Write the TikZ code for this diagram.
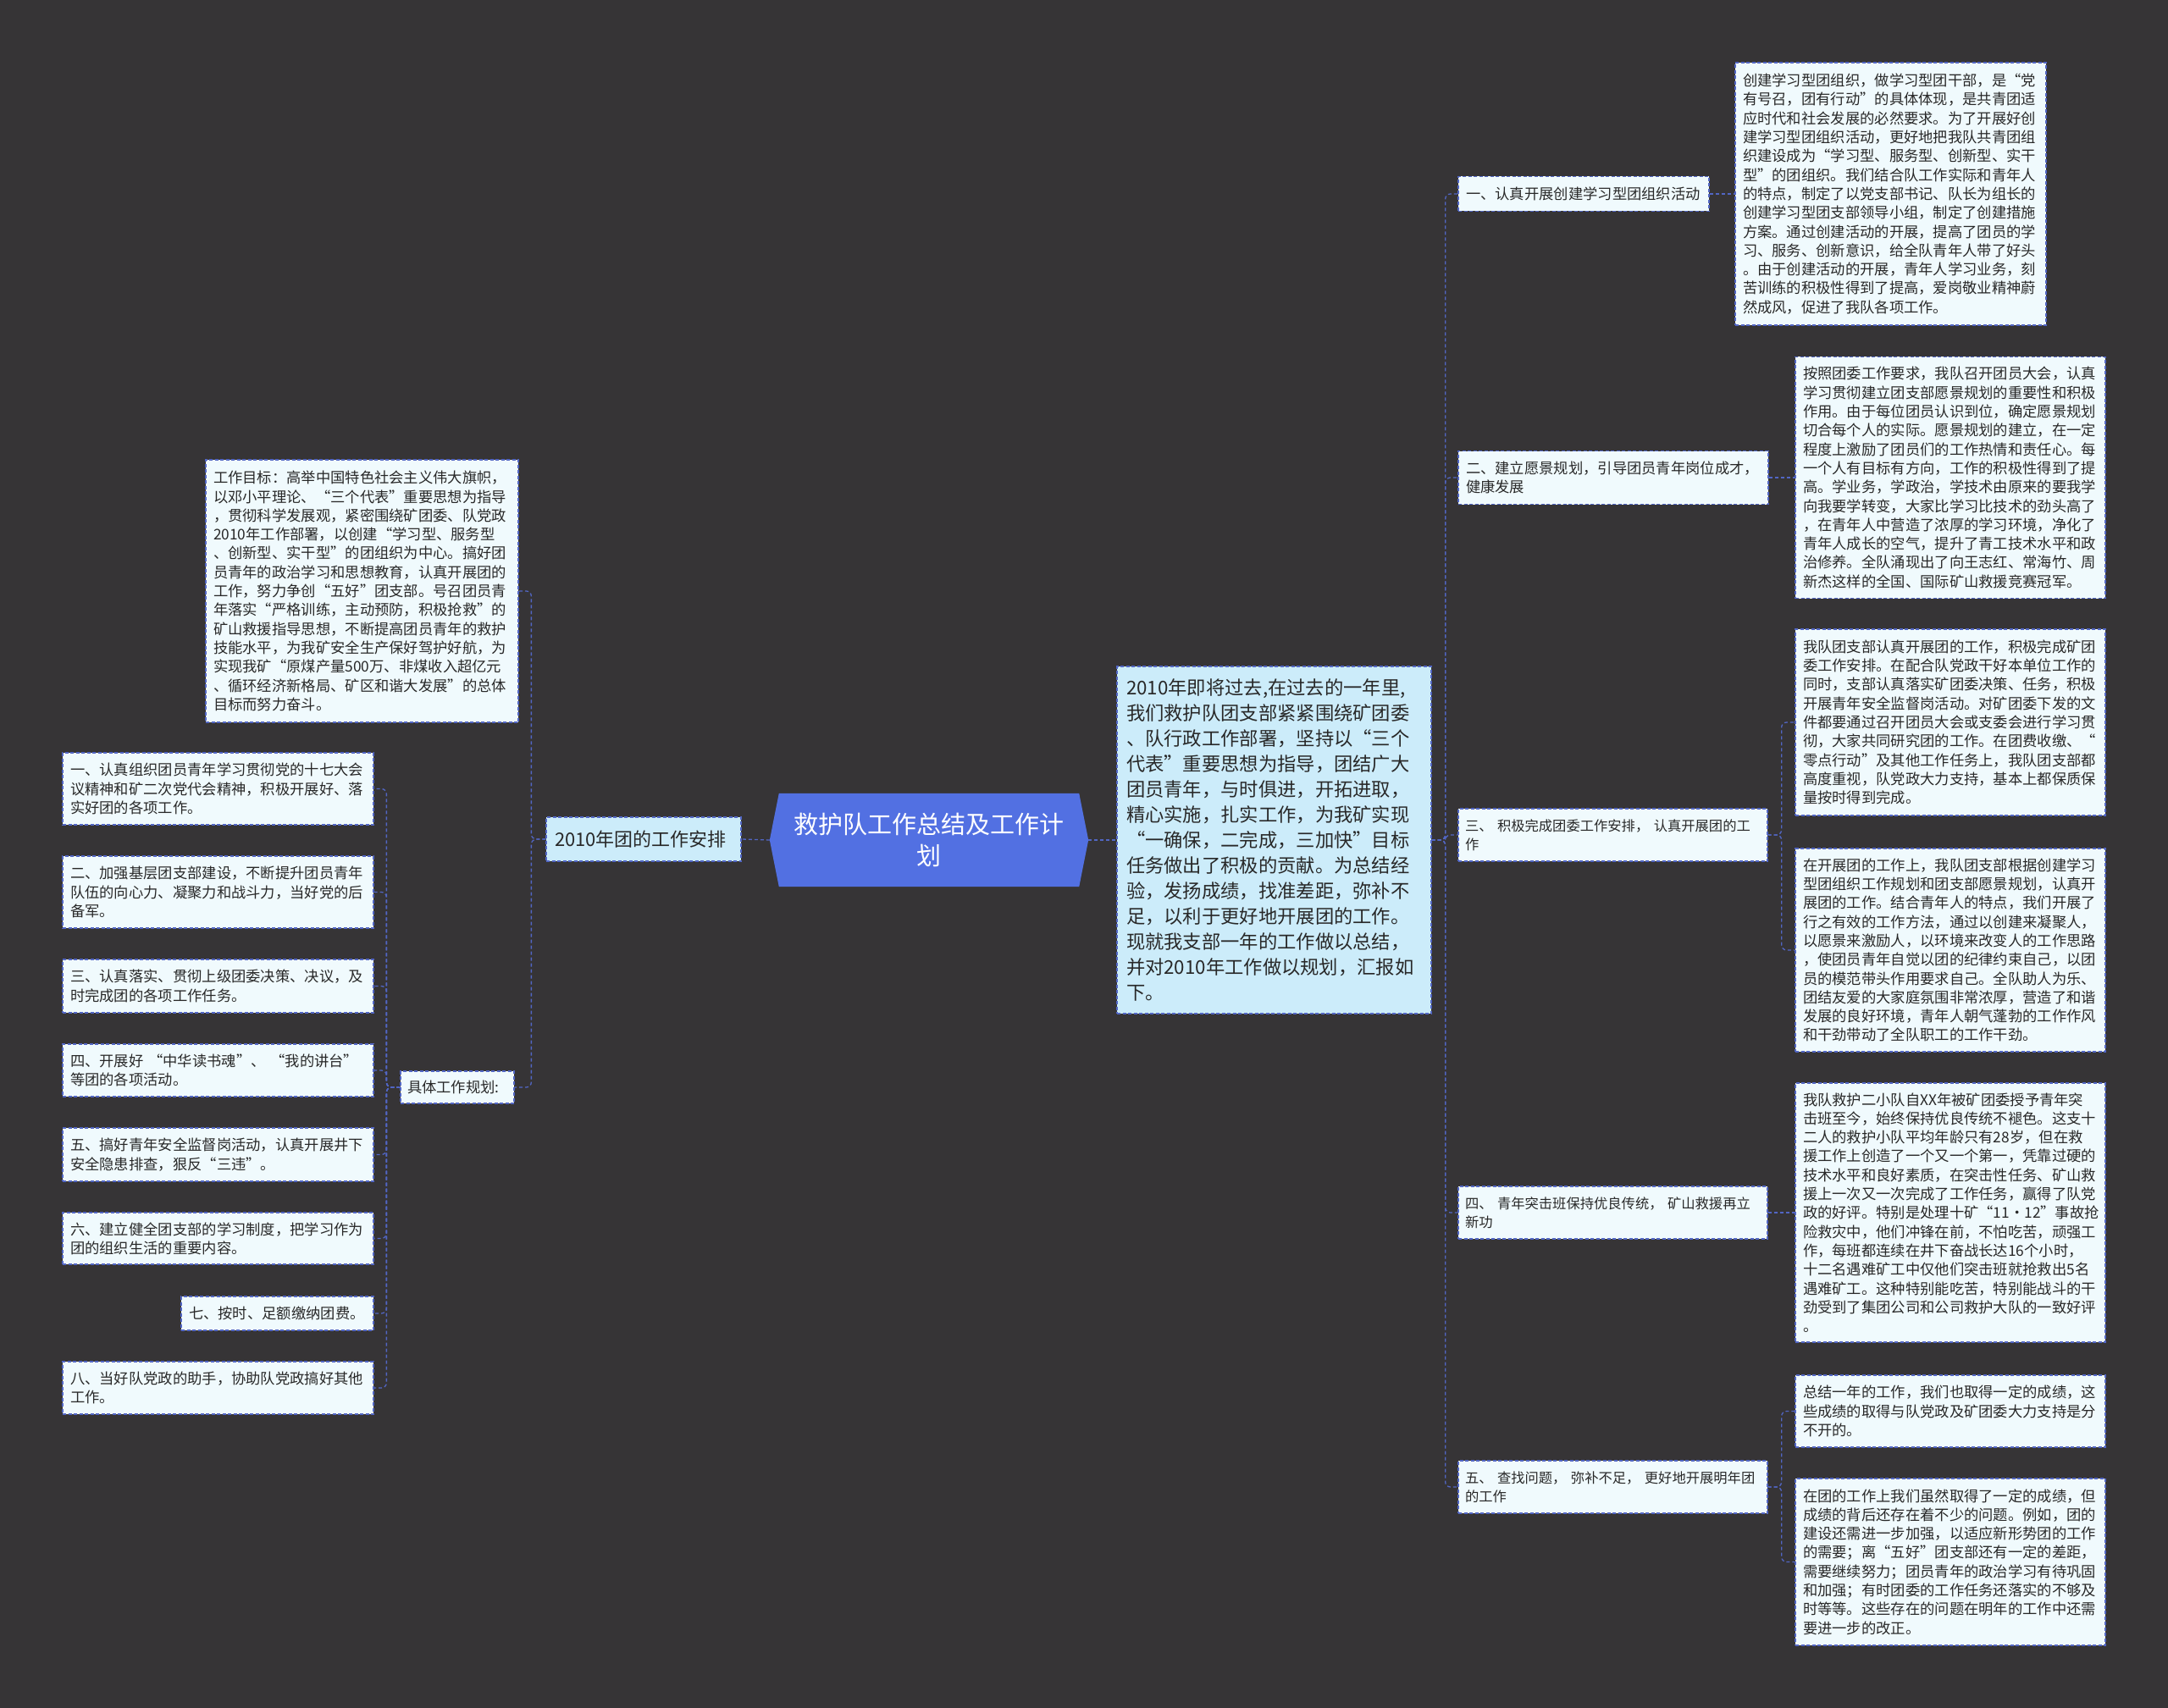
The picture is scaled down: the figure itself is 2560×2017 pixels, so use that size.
\documentclass[tikz,border=0pt]{standalone}
\usepackage{fontspec}
\setmainfont{Noto Sans CJK SC}
\usetikzlibrary{backgrounds}
\definecolor{bgc}{RGB}{54,52,54}
\definecolor{leafc}{RGB}{240,250,253}
\definecolor{sumc}{RGB}{204,236,250}
\definecolor{edgec}{RGB}{82,102,196}
\definecolor{hubc}{RGB}{82,112,226}
\definecolor{txtc}{RGB}{40,40,40}
\tikzset{
  box/.style={draw=edgec, line width=1.3pt, dash pattern=on 4pt off 2.5pt, fill=leafc,
    text=txtc, align=left, inner xsep=9pt, inner ysep=0pt, anchor=center,
    font=\fontsize{17.3pt}{22.3pt}\selectfont},
  lbl/.style={box, inner xsep=8pt, font=\fontsize{16.3pt}{21.5pt}\selectfont},
  sumbox/.style={box, fill=sumc, inner xsep=11pt, font=\fontsize{22.3pt}{30pt}\selectfont},
  conn/.style={draw=edgec, line width=1.3pt, dash pattern=on 4pt off 3pt, rounded corners=6pt},
}
\begin{document}
\begin{tikzpicture}[x=1pt,y=-1pt]
\useasboundingbox (0,0) rectangle (2560,2017);

% hub
\node[font=\fontsize{29pt}{37pt}\selectfont, text=white, align=center,
  minimum width=376pt, minimum height=110pt, inner sep=0pt] (hub) at (1097,992)
  {救护队工作总结及工作计\\划};

% summary
\node[sumbox, text width=349pt, minimum height=410pt] (sum) at (1504.5,992)
{2010年即将过去,在过去的一年里,\\
我们救护队团支部紧紧围绕矿团委\\
、队行政工作部署，坚持以“三个\\
代表”重要思想为指导，团结广大\\
团员青年，与时俱进，开拓进取，\\
精心实施，扎实工作，为我矿实现\\
“一确保，二完成，三加快”目标\\
任务做出了积极的贡献。为总结经\\
验，发扬成绩，找准差距，弥补不\\
足，以利于更好地开展团的工作。\\
现就我支部一年的工作做以总结，\\
并对2010年工作做以规划，汇报如\\
下。};

% left branch
\node[sumbox, font=\fontsize{22pt}{26pt}\selectfont, inner xsep=10pt, text width=210pt, minimum height=52pt] (plan) at (760,991) {2010年团的工作安排};

\node[box, text width=351pt, minimum height=310pt] (goal) at (427.5,698)
{工作目标：高举中国特色社会主义伟大旗帜，\\
以邓小平理论、“三个代表”重要思想为指导\\
，贯彻科学发展观，紧密围绕矿团委、队党政\\
2010年工作部署，以创建“学习型、服务型\\
、创新型、实干型”的团组织为中心。搞好团\\
员青年的政治学习和思想教育，认真开展团的\\
工作，努力争创“五好”团支部。号召团员青\\
年落实“严格训练，主动预防，积极抢救”的\\
矿山救援指导思想，不断提高团员青年的救护\\
技能水平，为我矿安全生产保好驾护好航，为\\
实现我矿“原煤产量500万、非煤收入超亿元\\
、循环经济新格局、矿区和谐大发展”的总体\\
目标而努力奋斗。};

\node[box, inner xsep=8pt, text width=118pt, minimum height=38pt] (spec) at (540,1284) {具体工作规划:};

\node[box, text width=349pt, minimum height=85pt] (l1) at (257.5,931.5)
{一、认真组织团员青年学习贯彻党的十七大会\\议精神和矿二次党代会精神，积极开展好、落\\实好团的各项工作。};
\node[box, text width=349pt, minimum height=85pt] (l2) at (257.5,1053.5)
{二、加强基层团支部建设，不断提升团员青年\\队伍的向心力、凝聚力和战斗力，当好党的后\\备军。};
\node[box, text width=349pt, minimum height=63pt] (l3) at (257.5,1164.5)
{三、认真落实、贯彻上级团委决策、决议，及\\时完成团的各项工作任务。};
\node[box, text width=349pt, minimum height=62pt] (l4) at (257.5,1264)
{四、开展好~“中华读书魂”、~“我的讲台”\\等团的各项活动。};
\node[box, text width=349pt, minimum height=63pt] (l5) at (257.5,1363.5)
{五、搞好青年安全监督岗活动，认真开展井下\\安全隐患排查，狠反“三违”。};
\node[box, text width=349pt, minimum height=61pt] (l6) at (257.5,1462.5)
{六、建立健全团支部的学习制度，把学习作为\\团的组织生活的重要内容。};
\node[box, text width=209pt, minimum height=40pt] (l7) at (327.5,1551)
{七、按时、足额缴纳团费。};
\node[box, text width=349pt, minimum height=62pt] (l8) at (257.5,1639)
{八、当好队党政的助手，协助队党政搞好其他\\工作。};

% right level 2
\node[box, text width=278pt, minimum height=41pt] (a1) at (1870,229) {一、认真开展创建学习型团组织活动};
\node[box, text width=348pt, minimum height=63pt] (a2) at (1905,564) {二、建立愿景规划，引导团员青年岗位成才，\\健康发展};
\node[lbl, text width=349pt, minimum height=62pt] (a3) at (1904.5,986) {三、~积极完成团委工作安排，~认真开展团的工\\作};
\node[lbl, text width=349pt, minimum height=62pt] (a4) at (1904.5,1432) {四、~青年突击班保持优良传统，~矿山救援再立\\新功};
\node[lbl, text width=349pt, minimum height=62pt] (a5) at (1904.5,1756) {五、~查找问题，~弥补不足，~更好地开展明年团\\的工作};

% right leaves
\node[box, text width=349pt, minimum height=310pt] (r1) at (2232.5,229)
{创建学习型团组织，做学习型团干部，是“党\\
有号召，团有行动”的具体体现，是共青团适\\
应时代和社会发展的必然要求。为了开展好创\\
建学习型团组织活动，更好地把我队共青团组\\
织建设成为“学习型、服务型、创新型、实干\\
型”的团组织。我们结合队工作实际和青年人\\
的特点，制定了以党支部书记、队长为组长的\\
创建学习型团支部领导小组，制定了创建措施\\
方案。通过创建活动的开展，提高了团员的学\\
习、服务、创新意识，给全队青年人带了好头\\
。由于创建活动的开展，青年人学习业务，刻\\
苦训练的积极性得到了提高，爱岗敬业精神蔚\\
然成风，促进了我队各项工作。};

\node[box, text width=348pt, minimum height=285pt] (r2) at (2303,564)
{按照团委工作要求，我队召开团员大会，认真\\
学习贯彻建立团支部愿景规划的重要性和积极\\
作用。由于每位团员认识到位，确定愿景规划\\
切合每个人的实际。愿景规划的建立，在一定\\
程度上激励了团员们的工作热情和责任心。每\\
一个人有目标有方向，工作的积极性得到了提\\
高。学业务，学政治，学技术由原来的要我学\\
向我要学转变，大家比学习比技术的劲头高了\\
，在青年人中营造了浓厚的学习环境，净化了\\
青年人成长的空气，提升了青工技术水平和政\\
治修养。全队涌现出了向王志红、常海竹、周\\
新杰这样的全国、国际矿山救援竞赛冠军。};

\node[box, text width=348pt, minimum height=220pt] (r3) at (2303,853)
{我队团支部认真开展团的工作，积极完成矿团\\
委工作安排。在配合队党政干好本单位工作的\\
同时，支部认真落实矿团委决策、任务，积极\\
开展青年安全监督岗活动。对矿团委下发的文\\
件都要通过召开团员大会或支委会进行学习贯\\
彻，大家共同研究团的工作。在团费收缴、“\\
零点行动”及其他工作任务上，我队团支部都\\
高度重视，队党政大力支持，基本上都保质保\\
量按时得到完成。};

\node[box, text width=348pt, minimum height=240pt] (r4) at (2303,1122)
{在开展团的工作上，我队团支部根据创建学习\\
型团组织工作规划和团支部愿景规划，认真开\\
展团的工作。结合青年人的特点，我们开展了\\
行之有效的工作方法，通过以创建来凝聚人，\\
以愿景来激励人，以环境来改变人的工作思路\\
，使团员青年自觉以团的纪律约束自己，以团\\
员的模范带头作用要求自己。全队助人为乐、\\
团结友爱的大家庭氛围非常浓厚，营造了和谐\\
发展的良好环境，青年人朝气蓬勃的工作作风\\
和干劲带动了全队职工的工作干劲。};

\node[box, text width=348pt, minimum height=306pt] (r5) at (2303,1432)
{我队救护二小队自XX年被矿团委授予青年突\\
击班至今，始终保持优良传统不褪色。这支十\\
二人的救护小队平均年龄只有28岁，但在救\\
援工作上创造了一个又一个第一，凭靠过硬的\\
技术水平和良好素质，在突击性任务、矿山救\\
援上一次又一次完成了工作任务，赢得了队党\\
政的好评。特别是处理十矿“11·12”事故抢\\
险救灾中，他们冲锋在前，不怕吃苦，顽强工\\
作，每班都连续在井下奋战长达16个小时，\\
十二名遇难矿工中仅他们突击班就抢救出5名\\
遇难矿工。这种特别能吃苦，特别能战斗的干\\
劲受到了集团公司和公司救护大队的一致好评\\
。};

\node[box, text width=348pt, minimum height=85pt] (r6) at (2303,1666.5)
{总结一年的工作，我们也取得一定的成绩，这\\
些成绩的取得与队党政及矿团委大力支持是分\\
不开的。};

\node[box, text width=348pt, minimum height=197pt] (r7) at (2303,1844.5)
{在团的工作上我们虽然取得了一定的成绩，但\\
成绩的背后还存在着不少的问题。例如，团的\\
建设还需进一步加强，以适应新形势团的工作\\
的需要；离“五好”团支部还有一定的差距，\\
需要继续努力；团员青年的政治学习有待巩固\\
和加强；有时团委的工作任务还落实的不够及\\
时等等。这些存在的问题在明年的工作中还需\\
要进一步的改正。};

% connectors
\draw[conn] (hub.west) -- (plan.east);
\draw[conn] (plan.west) -- ++(-17,0) |- (goal.east);
\draw[conn] (plan.west) -- ++(-17,0) |- (spec.east);
\foreach \n in {l1,l2,l3,l4,l5,l6,l7,l8}
  \draw[conn] (spec.west) -- ++(-16,0) |- (\n.east);

\draw[conn] (hub.east) -- (sum.west);
\foreach \n in {a1,a2,a3,a4,a5}
  \draw[conn] (sum.east) -- ++(16,0) |- (\n.west);
\draw[conn] (a1.east) -- (r1.west);
\draw[conn] (a2.east) -- (r2.west);
\draw[conn] (a3.east) -- ++(16,0) |- (r3.west);
\draw[conn] (a3.east) -- ++(16,0) |- (r4.west);
\draw[conn] (a4.east) -- (r5.west);
\draw[conn] (a5.east) -- ++(16,0) |- (r6.west);
\draw[conn] (a5.east) -- ++(16,0) |- (r7.west);

\begin{scope}[on background layer]
  \fill[bgc] (0,0) rectangle (2560,2017);
  \fill[hubc] ([xshift=11pt]hub.north west) -- ([xshift=-11pt]hub.north east) -- (hub.east)
    -- ([xshift=-11pt]hub.south east) -- ([xshift=11pt]hub.south west) -- (hub.west) -- cycle;
\end{scope}
\end{tikzpicture}
\end{document}
